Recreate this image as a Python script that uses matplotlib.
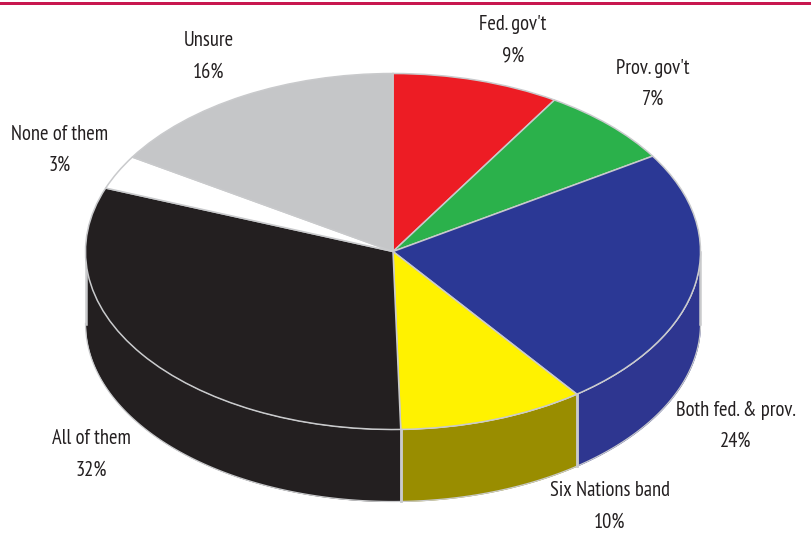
import numpy as np
import matplotlib
matplotlib.use("Agg")
import matplotlib.pyplot as plt

labels = ["Fed. gov't", "Prov. gov't", "Both fed. & prov.", "Six Nations band", "All of them", "None of them", "Unsure"]
percents = [9, 7, 24, 10, 32, 3, 16]
# slice sizes as drawn, they differ a little from the rounded labels
shares = [8.8, 7.2, 23.8, 9.8, 31.2, 3.1, 16.1]
top_colors = ["#ed1c24", "#2bb14b", "#2b3895", "#fff200", "#231f20", "#ffffff", "#c5c6c8"]
side_colors = ["#ed1c24", "#2bb14b", "#2e3690", "#998d00", "#231f20", "#ffffff", "#c5c6c8"]
label_x = [513, 653, 736, 610, 91, 60, 209]
label_y = [24, 68, 410, 491, 439, 134, 41]

W, H = 811, 533
CX, CY = 393, 251.5
RX, RY = 307.5, 178
DEPTH = 72 / RY
EDGE = "#c9cacc"

plt.rcParams["font.family"] = ["PT Sans Narrow", "Liberation Sans", "DejaVu Sans"]

fig = plt.figure(figsize=(W / 100, H / 100), dpi=100)
ax = fig.add_axes([0, 0, 1, 1])

# side wall of the pie, only the front half can be seen
fracs = np.array(shares) / sum(shares)
ends = np.cumsum(fracs) * 360
starts = ends - fracs * 360
for a, b, c in zip(starts, ends, side_colors):
    a, b = max(a, 90), min(b, 270)
    if b <= a:
        continue
    t = np.radians(np.linspace(a, b, 80))
    x = np.sin(t)
    y = np.cos(t)
    ax.fill_between(x, y, y - DEPTH, color=c, lw=0, zorder=1)
    ax.plot(x, y - DEPTH, color=EDGE, lw=0.9, zorder=2)
    ax.plot([x[0], x[0]], [y[0], y[0] - DEPTH], color=EDGE, lw=1.8, zorder=2)
    ax.plot([x[-1], x[-1]], [y[-1], y[-1] - DEPTH], color=EDGE, lw=1.8, zorder=2)

# top face
wedges, _ = ax.pie(shares, colors=top_colors, startangle=90, counterclock=False,
                   radius=1, wedgeprops=dict(edgecolor=EDGE, linewidth=1.1))
for w in wedges:
    w.set_zorder(3)

# squash the circle into the ellipse seen in the picture
ax.set_aspect("auto")
ax.set_xlim(-CX / RX, (W - CX) / RX)
ax.set_ylim((CY - H) / RY, CY / RY)
ax.axis("off")

# crimson rule along the top
fig.add_artist(plt.Rectangle((0, 1 - 5 / H), 1, 3 / H, transform=fig.transFigure,
                             color="#c8174f", lw=0))

for name, v, x, y in zip(labels, percents, label_x, label_y):
    fig.text(x / W, 1 - y / H, name, ha="center", va="center", fontsize=14.8, color="#231f20")
    fig.text(x / W, 1 - (y + 31.5) / H, f"{v}%", ha="center", va="center", fontsize=14.8, color="#231f20")

fig.savefig("out.png", dpi=100)
